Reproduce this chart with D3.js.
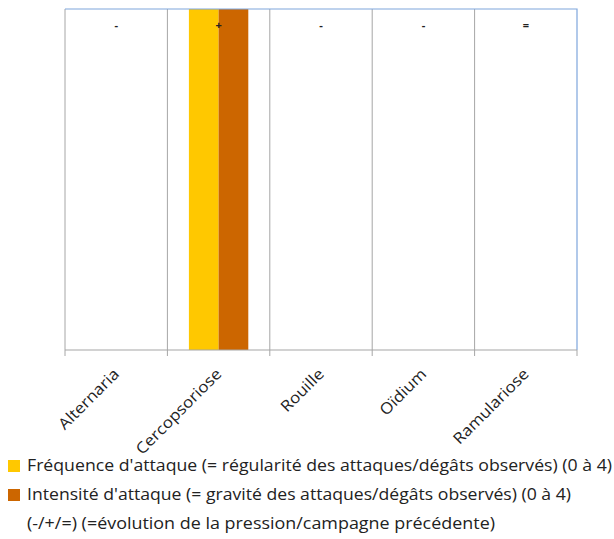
<!DOCTYPE html>
<html>
<head>
<meta charset="utf-8">
<script src="https://cdn.jsdelivr.net/npm/d3@7"></script>
<style>
  body { margin: 0; background: #fff; }
  text { font-family: "Open Sans", sans-serif; }
</style>
</head>
<body>
<div id="chart"></div>
<script>
// data
const categories = ['Alternaria', 'Cercopsoriose', 'Rouille', 'Oïdium', 'Ramulariose'];
const frequence = [0, 4, 0, 0, 0];
const intensite = [0, 4, 0, 0, 0];
const evolution = ['-', '+', '-', '-', '='];
const seriesNames = [
    "Fréquence d'attaque (= régularité des attaques/dégâts observés) (0 à 4)",
    "Intensité d'attaque (= gravité des attaques/dégâts observés) (0 à 4)"
];
const noteText = '(-/+/=) (=évolution de la pression/campagne précédente)';
const colors = ['#ffc800', '#cc6600'];

let dim = { width: 614, height: 539 };
let plot = { left: 65, top: 9, right: 577, bottom: 350 };

let svg = d3.select('#chart').append('svg')
    .attr('width', dim.width)
    .attr('height', dim.height);

let x = d3.scaleBand().domain(categories).range([plot.left, plot.right]);
let xInner = d3.scaleBand().domain([0, 1]).range([0, x.bandwidth() * 0.58]);
let y = d3.scaleLinear().domain([0, 4]).range([plot.bottom, plot.top]);

// vertical separators
let bounds = categories.map(c => x(c)).concat([plot.right]);
svg.selectAll('line.sep')
    .data(bounds.slice(1, -1))
    .join('line')
    .attr('x1', d => d).attr('x2', d => d)
    .attr('y1', plot.top).attr('y2', plot.bottom)
    .attr('stroke', '#a6a6a6').attr('stroke-width', 1);

// bars
let series = [frequence, intensite];
series.forEach(function(vals, si){
    svg.selectAll('rect.s' + si)
        .data(vals)
        .join('rect')
        .attr('class', 's' + si)
        .attr('x', (d, i) => x(categories[i]) + (x.bandwidth() - xInner.range()[1]) / 2 + xInner(si))
        .attr('y', d => y(d))
        .attr('width', xInner.bandwidth())
        .attr('height', d => plot.bottom - y(d))
        .attr('fill', colors[si]);
});

// left border
svg.append('line')
    .attr('x1', plot.left).attr('x2', plot.left)
    .attr('y1', plot.top).attr('y2', plot.bottom)
    .attr('stroke', '#a6a6a6');
// top and right border
svg.append('path')
    .attr('d', `M${plot.left},${plot.top}H${plot.right}V${plot.bottom}`)
    .attr('fill', 'none')
    .attr('stroke', '#7ea6dc').attr('stroke-width', 1.2);

// x axis
let axis = svg.append('g')
    .attr('transform', `translate(0,${plot.bottom})`);
axis.append('line')
    .attr('x1', plot.left).attr('x2', plot.right)
    .attr('stroke', '#a6a6a6').attr('stroke-width', 1.2);
axis.selectAll('line.tick')
    .data(bounds)
    .join('line')
    .attr('x1', d => d).attr('x2', d => d)
    .attr('y1', 0).attr('y2', 6)
    .attr('stroke', '#a6a6a6');
axis.selectAll('text')
    .data(categories)
    .join('text')
    .attr('transform', d => `translate(${x(d) + x.bandwidth() / 2 + 4},${25}) rotate(-45)`)
    .attr('text-anchor', 'end')
    .attr('font-size', 15.5)
    .attr('fill', '#222')
    .text(d => d)
    .each(function(){
        let len = this.getComputedTextLength();
        d3.select(this).attr('textLength', len * 1.1).attr('lengthAdjust', 'spacingAndGlyphs');
    });

// evolution symbols
svg.selectAll('text.evo')
    .data(evolution)
    .join('text')
    .attr('class', 'evo')
    .attr('x', (d, i) => x(categories[i]) + x.bandwidth() / 2)
    .attr('y', 29)
    .attr('text-anchor', 'middle')
    .attr('font-size', 11)
    .attr('font-weight', 'bold')
    .attr('fill', '#222')
    .text(d => d);

// legend
let legend = svg.append('g');
seriesNames.forEach(function(name, i){
    legend.append('rect')
        .attr('x', 8).attr('y', 460 + i * 29)
        .attr('width', 12).attr('height', 12)
        .attr('fill', colors[i]);
    legend.append('text')
        .attr('x', 27).attr('y', 471 + i * 29)
        .attr('font-size', 15.5)
        .attr('fill', '#222')
        .attr('textLength', i == 0 ? 585 : 544)
        .attr('lengthAdjust', 'spacingAndGlyphs')
        .text(name);
});
legend.append('text')
    .attr('x', 27).attr('y', 529)
    .attr('font-size', 15.5)
    .attr('fill', '#222')
    .attr('textLength', 468)
    .attr('lengthAdjust', 'spacingAndGlyphs')
    .text(noteText);
</script>
</body>
</html>
